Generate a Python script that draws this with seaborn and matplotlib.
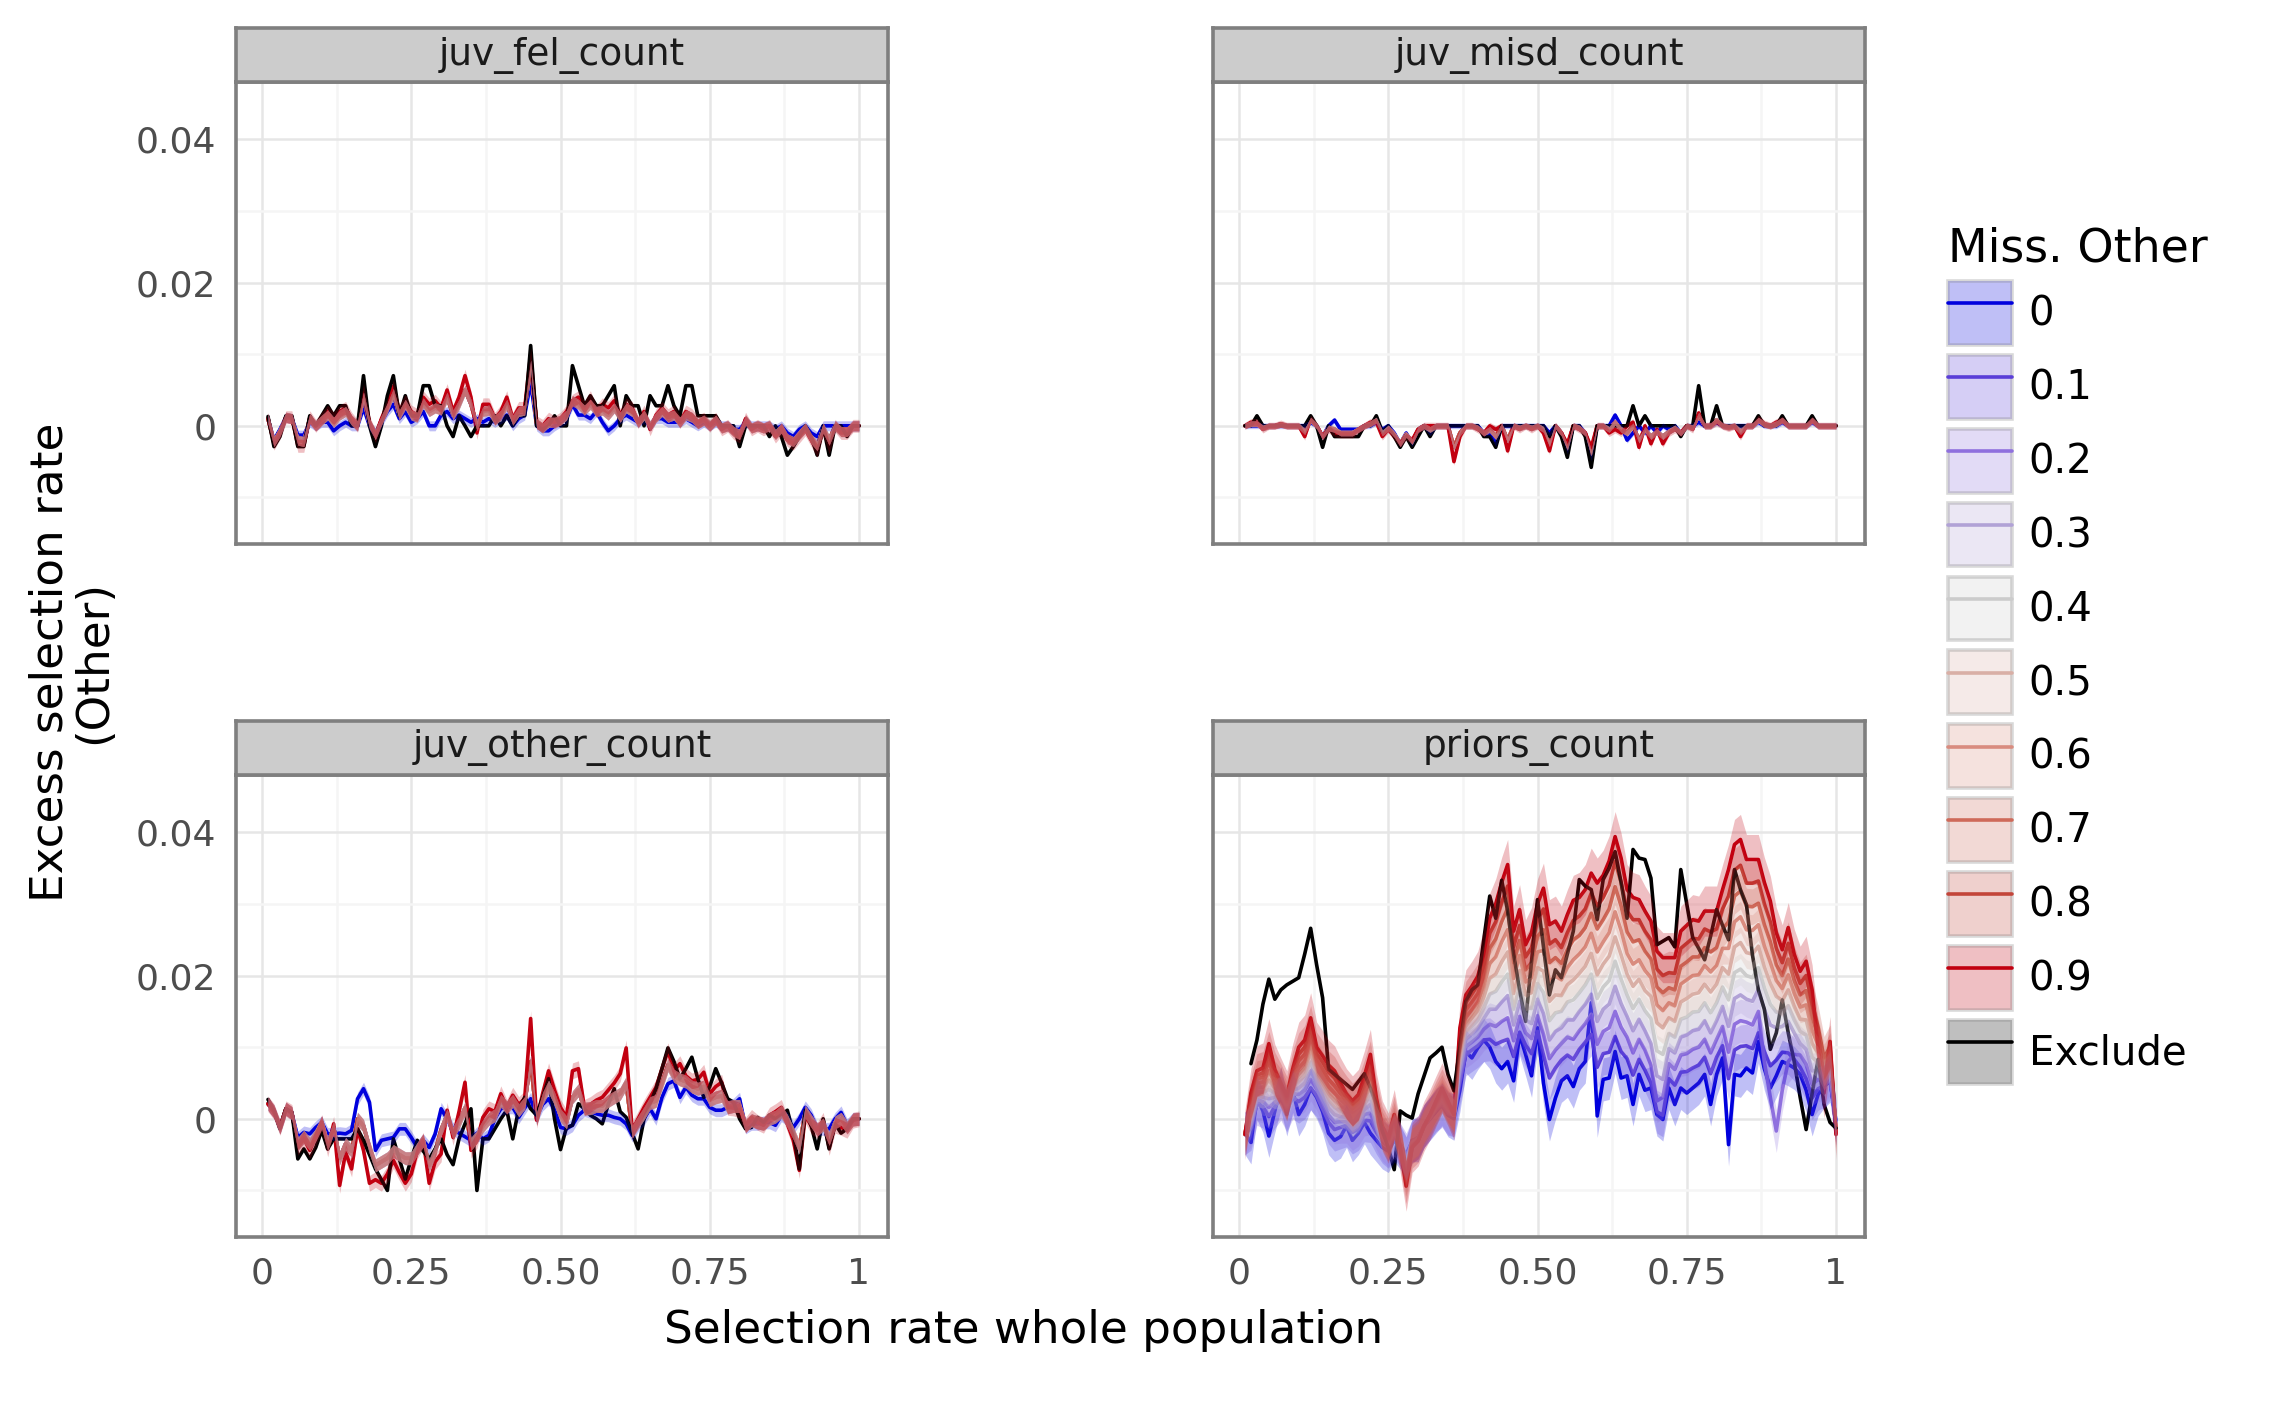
import numpy as np
import pandas as pd
import matplotlib
matplotlib.use("Agg")
import matplotlib.pyplot as plt
import seaborn as sns
from matplotlib.patches import Patch
from matplotlib.lines import Line2D
from matplotlib.legend_handler import HandlerTuple
from matplotlib.colors import to_rgba

sns.set_theme(style="white")
plt.rcParams["font.family"] = ["DejaVu Sans"]
plt.rcParams["text.color"] = "black"

nan = np.nan

# ------------------------------------------------------------
# Data (excess selection rate in units of 1e-4)
# ------------------------------------------------------------
sel_rate = np.round(np.arange(1, 101) / 100, 2)

levels = ["0", "0.1", "0.2", "0.3", "0.4", "0.5", "0.6", "0.7", "0.8", "0.9", "Exclude"]
level_colors = ["#0000dd", "#5a3ed8", "#8f70de", "#b1a2d6", "#cccccc", "#d9afa6",
                "#d98c7f", "#cf6a5a", "#c3453a", "#c20010", "#000000"]

features = ["juv_fel_count", "juv_misd_count", "juv_other_count", "priors_count"]

# juv_fel_count
fel_0 = [10, -20, -5, 12, 10, -13, -13, 5, 0, 5,
         5, -7, 0, 5, 0, 0, 25, 0, -10, 5,
         20, 30, 10, 20, 5, 10, 20, 0, 0, 15,
         20, 10, 15, 10, 5, 10, 5, 10, 5, 10,
         15, 0, 10, 15, 60, 0, -7, -7, 0, 5,
         10, 30, 15, 15, 10, 20, 5, -7, 0, 10,
         15, 10, 5, 10, 0, 10, 10, 5, 5, 5,
         10, 5, 0, 5, 0, 5, 0, 0, -5, -5,
         5, 0, 0, 0, 0, -5, 0, -10, -15, -5,
         0, -10, -15, 0, 0, 0, 0, 0, 0, 0]
fel_mid = [10, -22, -8, 12, 10, -20, -22, 10, 0, 8,
           15, 5, 15, 20, 8, 0, 40, 3, -12, 8,
           25, 45, 15, 30, 15, 12, 32, 20, 25, 22,
           40, 15, 30, 50, 30, 0, 20, 22, 8, 15,
           30, 8, 20, 22, 85, 3, -3, 5, 5, 8,
           15, 35, 30, 22, 30, 20, 22, 15, 25, 12,
           25, 20, 5, 15, 0, 12, 20, 12, 15, 5,
           15, 12, 3, 8, 0, 8, -3, 0, -8, -12,
           8, -3, 0, -3, 0, -12, -3, -18, -22, -12,
           -3, -18, -28, -3, -20, 0, -8, -8, 0, 0]
fel_09 = [10, -25, -10, 12, 12, -28, -28, 12, 0, 10,
          20, 10, 20, 25, 10, 0, 50, 5, -15, 10,
          30, 55, 20, 35, 20, 15, 40, 30, 35, 25,
          50, 20, 40, 70, 40, -10, 30, 30, 10, 20,
          40, 10, 25, 25, 100, 5, 0, 10, 5, 10,
          20, 35, 40, 25, 40, 20, 30, 25, 35, 15,
          30, 25, 5, 20, -5, 15, 25, 15, 20, 5,
          20, 15, 5, 10, 0, 10, -5, 0, -10, -15,
          10, -5, 0, -5, 0, -15, -5, -20, -25, -15,
          -5, -20, -35, -5, -30, 0, -10, -10, 0, 0]
fel_excl = [13, -29, -15, 14, 14, -29, -29, 14, 0, 14,
            28, 14, 28, 28, 0, 0, 70, 0, -29, 0,
            42, 70, 14, 42, 14, 14, 56, 56, 28, 28,
            0, -15, 14, 0, -15, 0, 0, 0, 14, 0,
            14, 0, 14, 14, 112, 0, -5, 0, 14, 0,
            0, 84, 56, 28, 42, 28, 28, 42, 56, 0,
            42, 28, 28, 0, 42, 28, 28, 56, 28, 14,
            56, 56, 14, 14, 14, 14, 0, 0, 0, -29,
            0, 0, 0, 0, -15, 0, -15, -41, -29, -15,
            0, -15, -41, 0, -41, 0, 0, -15, 0, 0]

# juv_misd_count
misd_0 = [0, 0, 0, 0, 0, 0, 0, 0, 0, 0,
          0, 5, 0, -15, 0, 8, -5, -5, -5, -5,
          0, 0, 5, -5, 0, -10, -25, -10, -25, -5,
          0, -10, 0, 0, 0, 0, 0, 0, 0, 0,
          -10, -10, -25, 0, 0, 0, 0, 0, 0, 0,
          0, -10, 0, -10, -35, 0, 0, -10, -45, 0,
          0, 0, 15, 0, -20, -10, 0, -10, 0, -10,
          0, -5, 0, -10, 0, 0, 5, 0, 0, 5,
          0, 0, 0, 0, 0, 0, 5, 0, 0, 0,
          5, 0, 0, 0, 0, 5, 0, 0, 0, 0]
misd_mid = [0, 3, 3, -3, 0, 0, 2, 0, 0, 0,
            -8, 8, 0, -15, -3, -5, -10, -10, -10, -5,
            0, 3, 8, -10, -3, -12, -25, -12, -22, -5,
            0, -5, 0, 0, 0, -30, -10, 0, 0, -3,
            -10, -5, -15, 0, -20, 0, -3, 0, -3, 0,
            -5, -25, 0, -10, -30, 0, -3, -10, -38, 0,
            0, -5, 5, -5, -10, 0, -20, -5, -15, -8,
            -15, -8, -3, -10, 0, -3, 15, 0, 0, 8,
            0, -2, 0, -8, 0, 0, 8, 2, 0, 3,
            8, 0, 0, 0, 0, 8, 0, 0, 0, 0]
misd_09 = [0, 5, 5, -5, 0, 0, 3, 0, 0, 0,
           -15, 10, 0, -15, -5, -10, -12, -12, -12, -5,
           0, 5, 5, -15, -5, -15, -25, -15, -20, -5,
           0, 0, 0, 0, 0, -50, -15, 0, 0, -5,
           -10, 0, -5, 0, -35, 0, -5, 0, -5, 0,
           -10, -35, 0, -10, -25, 0, -5, -10, -30, 0,
           0, -10, -5, -10, 0, 5, -30, 0, -25, -5,
           -25, -10, -5, -10, 0, -5, 18, 0, 0, 5,
           0, -3, 0, -15, 0, 0, 10, 3, 0, 5,
           8, 0, 0, 0, 0, 8, 0, 0, 0, 0]
misd_excl = [0, 0, 14, 0, 0, 0, 0, 0, 0, 0,
             0, 14, 0, -30, 0, -15, -15, -15, -15, -15,
             0, 0, 14, -8, 0, -15, -30, -15, -30, -15,
             0, -15, 0, 0, 0, 0, 0, 0, 0, 0,
             -15, -15, -30, 0, 0, 0, 0, 0, 0, 0,
             0, -15, 0, -15, -44, 0, 0, -15, -58, 0,
             0, 0, 0, 0, 0, 28, 0, 14, 0, 0,
             0, 0, 0, -15, 0, 0, 56, 0, 0, 28,
             0, 0, 0, 0, 0, 0, 14, 0, 0, 0,
             14, 0, 0, 0, 0, 14, 0, 0, 0, 0]

# juv_other_count
oth_0 = [21, 10, -12, 14, 7, -26, -19, -21, -12, -5,
         -21, -21, -20, -21, -16, 28, 42, 23, -44, -30,
         -28, -26, -14, -14, -26, -40, -30, -40, -21, 14,
         0, -14, -20, -25, -30, -20, -28, -23, 0, 14,
         16, 16, 2, 15, 28, 2, 20, 28, 12, -12,
         -14, -9, 5, 12, 10, 7, 5, 5, 2, 0,
         -7, -23, -9, 0, 14, 0, 30, 49, 53, 30,
         44, 33, 28, 28, 16, 12, 12, 16, 20, 28,
         -12, -7, -7, -5, -5, -9, 5, 0, -12, 0,
         16, 5, -14, -14, -14, 0, 9, -9, 0, 0]
oth_mid = [21, 10, -12, 14, 8, -35, -25, -35, -22, -5,
           -35, -12, -55, -35, -45, 0, -10, -40, -65, -60,
           -55, -45, -50, -55, -55, -42, -30, -65, -45, -15,
           5, -20, -5, 15, -35, -25, -10, 0, 5, 25,
           16, 25, 12, 22, 80, 0, 28, 45, 28, 5,
           -5, 30, 40, 14, 15, 18, 18, 25, 30, 35,
           50, -18, -5, 8, 22, 25, 50, 75, 60, 55,
           52, 45, 42, 45, 26, 30, 32, 16, 18, 18,
           -10, -2, -5, -7, 0, 3, 10, -3, -20, -40,
           10, -3, -15, -8, -28, -5, 0, -12, -1, 0]
oth_09 = [21, 10, -12, 14, 9, -40, -28, -44, -26, -5,
          -42, -7, -93, -47, -70, -14, -44, -90, -85, -90,
          -77, -58, -75, -90, -77, -45, -30, -90, -60, -49,
          12, -26, 10, 51, -44, -30, 2, 14, 10, 35,
          16, 33, 20, 28, 140, -2, 35, 67, 40, 16,
          2, 67, 70, 16, 20, 26, 30, 40, 50, 63,
          99, -16, 0, 16, 30, 44, 70, 95, 67, 77,
          60, 53, 55, 65, 35, 45, 51, 16, 15, 12,
          -9, 2, -5, -9, 5, 10, 16, -7, -30, -72,
          5, -10, -16, -2, -40, -9, -12, -16, -2, 0]
oth_excl = [27, 12, -14, 14, 9, -56, -42, -56, -40, -16,
            -42, -28, -28, -28, -28, -14, -30, -50, -70, -85,
            -100, -28, -56, -84, -56, -30, -45, -56, -42, -28,
            -50, -64, -28, -7, 14, -100, -28, -28, -14, 0,
            12, -28, 14, 30, 14, 5, 30, 56, 0, -43,
            -12, -9, 21, 14, 5, 0, -7, 20, 42, 10,
            2, -20, -42, 0, 21, 42, 70, 99, 80, 56,
            70, 86, 56, 30, 45, 70, 50, 28, 23, 0,
            -14, -12, 2, -5, 5, 0, 5, 12, -20, -70,
            12, -10, -42, 0, -42, -7, -20, -14, 0, 0]

# priors_count
pri_00 = [-20, -33, 29, 11, -24, 11, 43, 6, 39, 6,
          20, 43, 30, 10, -20, -30, -25, -10, -30, -20,
          -5, -20, -30, -40, -45, -30, -40, -55, -30, -30,
          -10, 0, 10, 20, 5, 0, 40, 94, 85, 99,
          110, 100, 80, 70, 80, 53, 118, 90, 60, 127,
          50, -1, 29, 53, 60, 45, 70, 80, 162, 4,
          55, 57, 94, 57, 60, 20, 62, 40, 43, 6,
          -1, 43, 20, 43, 36, 43, 50, 62, 20, 62,
          85, -36, 62, 60, 71, 64, 108, 70, 43, 60,
          80, 76, 71, 62, 40, 6, 34, 45, 53, -3]
pri_01 = [-20, -14, 21, 17, 3, 17, 28, 12, 30, 24,
          30, 42, 33, 14, -5, -15, -12, -9, -19, -14,
          -2, -3, -19, -32, -39, -26, -36, -50, -31, -26,
          -10, 1, 12, 18, 7, 5, 50, 90, 96, 102,
          110, 111, 104, 108, 111, 87, 121, 103, 91, 122,
          89, 57, 71, 82, 89, 83, 97, 107, 118, 72,
          91, 93, 115, 94, 84, 61, 83, 68, 50, 10,
          5, 56, 47, 65, 66, 71, 75, 86, 63, 86,
          102, 56, 96, 101, 102, 98, 120, 94, 74, 82,
          93, 92, 83, 72, 56, 29, 42, 46, 56, -7]
pri_02 = [-21, -8, 27, 24, 16, 23, 31, 15, 35, 34,
          40, 55, 42, 23, 5, -5, -4, -4, -14, -8,
          6, 8, -13, -29, -37, -22, -36, -56, -32, -26,
          -10, 1, 13, 21, 9, 5, 59, 101, 107, 114,
          125, 132, 129, 136, 141, 109, 143, 120, 112, 144,
          118, 84, 96, 105, 114, 111, 123, 133, 146, 104,
          122, 127, 150, 128, 114, 92, 111, 96, 75, 25,
          30, 77, 69, 89, 91, 97, 100, 111, 92, 111,
          129, 93, 132, 137, 135, 131, 150, 80, 30, -17,
          40, 80, 90, 89, 76, 48, 55, 51, 63, -9]
pri_03 = [-20, -1, 32, 30, 28, 30, 33, 17, 40, 43,
          50, 67, 50, 33, 15, 6, 3, 2, -8, -2,
          13, 20, -7, -27, -36, -18, -37, -61, -33, -27,
          -10, 2, 15, 24, 12, 5, 69, 111, 118, 126,
          140, 153, 153, 163, 172, 131, 164, 138, 133, 167,
          147, 110, 122, 127, 138, 138, 150, 160, 174, 136,
          153, 160, 185, 161, 143, 123, 139, 123, 105, 60,
          55, 98, 92, 114, 117, 123, 125, 137, 120, 137,
          157, 129, 168, 173, 167, 164, 181, 153, 131, 127,
          129, 136, 120, 105, 97, 67, 67, 57, 69, -11]
pri_04 = [-22, 5, 38, 37, 41, 36, 36, 20, 45, 53,
          60, 79, 58, 42, 25, 16, 11, 7, -3, 4,
          21, 32, -1, -24, -34, -14, -37, -67, -34, -28,
          -10, 3, 17, 27, 14, 5, 79, 121, 129, 138,
          155, 174, 178, 191, 202, 153, 185, 155, 154, 189,
          176, 137, 148, 150, 163, 166, 176, 187, 202, 168,
          184, 193, 220, 195, 173, 154, 167, 151, 140, 95,
          90, 119, 114, 139, 142, 149, 150, 162, 148, 162,
          184, 166, 204, 209, 200, 197, 211, 183, 160, 149,
          147, 158, 138, 122, 117, 86, 79, 62, 76, -13]
pri_05 = [-21, 11, 44, 44, 54, 43, 39, 22, 50, 62,
          70, 92, 67, 51, 35, 26, 19, 13, 3, 10,
          29, 44, 5, -21, -33, -10, -38, -72, -36, -29,
          -10, 3, 18, 31, 16, 5, 88, 132, 141, 151,
          170, 196, 202, 219, 233, 175, 207, 173, 176, 211,
          206, 164, 173, 172, 187, 194, 203, 213, 231, 201,
          216, 227, 254, 229, 202, 185, 195, 179, 171, 134,
          127, 141, 136, 163, 168, 174, 176, 188, 177, 188,
          211, 202, 240, 246, 232, 230, 241, 212, 189, 171,
          165, 180, 157, 139, 138, 105, 92, 68, 82, -14]
pri_06 = [-20, 17, 50, 51, 67, 50, 42, 24, 55, 71,
          80, 104, 75, 60, 45, 36, 27, 19, 9, 16,
          37, 55, 11, -18, -32, -6, -39, -77, -37, -29,
          -10, 4, 20, 34, 18, 5, 98, 142, 152, 163,
          185, 217, 226, 247, 264, 196, 228, 191, 197, 233,
          235, 191, 199, 194, 211, 222, 230, 240, 259, 233,
          247, 260, 289, 263, 231, 216, 222, 207, 197, 159,
          151, 162, 158, 188, 194, 200, 201, 214, 205, 214,
          238, 238, 275, 282, 264, 263, 271, 241, 218, 193,
          182, 201, 175, 156, 159, 123, 104, 74, 88, -16]
pri_07 = [-22, 23, 56, 58, 80, 56, 45, 27, 60, 81,
          90, 116, 83, 69, 55, 46, 35, 24, 14, 22,
          45, 67, 17, -15, -30, -2, -39, -83, -38, -30,
          -10, 5, 22, 37, 20, 6, 108, 152, 163, 175,
          200, 238, 251, 275, 294, 218, 249, 208, 218, 255,
          264, 218, 225, 217, 236, 250, 256, 267, 287, 265,
          278, 293, 324, 297, 261, 247, 250, 234, 223, 184,
          176, 183, 180, 213, 219, 226, 226, 239, 233, 239,
          265, 275, 311, 318, 297, 296, 301, 271, 247, 215,
          200, 223, 193, 173, 179, 142, 116, 79, 95, -18]
pri_08 = [-21, 30, 61, 64, 92, 63, 47, 29, 65, 90,
          100, 128, 91, 79, 65, 57, 42, 30, 20, 28,
          52, 79, 23, -13, -29, 2, -40, -88, -39, -31,
          -10, 5, 23, 40, 23, 6, 117, 162, 174, 187,
          215, 259, 275, 302, 325, 240, 270, 226, 239, 278,
          293, 244, 250, 239, 260, 277, 283, 293, 315, 297,
          309, 326, 359, 330, 290, 278, 278, 262, 250, 209,
          200, 204, 203, 238, 245, 252, 251, 265, 261, 265,
          293, 311, 347, 354, 329, 329, 332, 300, 275, 238,
          218, 245, 211, 189, 200, 161, 128, 85, 101, -20]
pri_09 = [-22, 36, 67, 71, 105, 69, 50, 32, 70, 100,
          110, 141, 100, 88, 75, 67, 50, 35, 25, 34,
          60, 90, 29, -10, -27, 6, -40, -94, -40, -31,
          -10, 6, 25, 43, 25, 6, 127, 173, 185, 199,
          230, 280, 300, 330, 355, 262, 292, 243, 260, 300,
          322, 271, 276, 262, 285, 305, 309, 320, 343, 329,
          340, 360, 394, 364, 320, 309, 306, 290, 276, 234,
          225, 225, 225, 262, 270, 278, 276, 290, 290, 290,
          320, 348, 383, 390, 362, 362, 362, 330, 304, 260,
          236, 267, 230, 206, 220, 180, 100, 36, 108, -22]
pri_excl = [nan, 77, 110, 160, 195, 167, 180, 187, 192, 197,
            230, 266, 215, 169, 69, 62, 55, 48, 41, 52,
            63, 43, 20, -17, -40, -71, 11, 5, 1, 35,
            60, 85, 92, 100, 62, 39, 100, 164, 180, 187,
            250, 311, 280, 333, 290, 230, 180, 136, 220, 306,
            240, 173, 208, 197, 230, 262, 334, 325, 320, 278,
            334, 350, 373, 330, 280, 376, 364, 362, 336, 243,
            248, 253, 240, 348, 300, 253, 238, 222, 255, 292,
            270, 250, 348, 320, 299, 229, 180, 153, 97, 120,
            166, 120, 80, 30, -15, 35, 83, 20, -5, -13]

panel_series = {
    "juv_fel_count": [fel_0] + [fel_mid] * 8 + [fel_09, fel_excl],
    "juv_misd_count": [misd_0] + [misd_mid] * 8 + [misd_09, misd_excl],
    "juv_other_count": [oth_0] + [oth_mid] * 8 + [oth_09, oth_excl],
    "priors_count": [pri_00, pri_01, pri_02, pri_03, pri_04, pri_05,
                     pri_06, pri_07, pri_08, pri_09, pri_excl],
}
# half width of the confidence ribbon (same units)
band_hw = {
    "juv_fel_count": [7, 7, 7, 7, 7, 7, 7, 7, 7, 9, 0],
    "juv_misd_count": [4, 4, 4, 4, 4, 4, 4, 4, 4, 5, 0],
    "juv_other_count": [9, 9, 9, 9, 9, 9, 9, 9, 9, 11, 0],
    "priors_count": [30, 30, 30, 25, 22, 22, 22, 25, 30, 35, 0],
}


def long_frame(series, hw):
    parts = []
    for lev, vals, h in zip(levels, series, hw):
        v = np.array(vals, dtype=float) * 1e-4
        for sign in (-1, 1):
            parts.append(pd.DataFrame({"x": sel_rate, "y": v + sign * h * 1e-4, "level": lev}))
    return pd.concat(parts, ignore_index=True).dropna()


# ------------------------------------------------------------
# Figure layout (pixel boxes on a 2285 x 1428 canvas)
# ------------------------------------------------------------
W, H = 2285, 1428
panel_px = {
    "juv_fel_count": (236, 82, 888, 544),
    "juv_misd_count": (1213, 82, 1865, 544),
    "juv_other_count": (236, 775, 888, 1237),
    "priors_count": (1213, 775, 1865, 1237),
}
strip_h = 54

fig = plt.figure(figsize=(W / 200, H / 200), dpi=200)
palette = dict(zip(levels, level_colors))

for feat in features:
    l, t, r, b = panel_px[feat]
    ax = fig.add_axes([l / W, 1 - b / H, (r - l) / W, (b - t) / H])
    d = long_frame(panel_series[feat], band_hw[feat])
    sns.lineplot(data=d, x="x", y="y", hue="level", hue_order=levels, palette=palette,
                 errorbar=("pi", 100), linewidth=1.3, legend=False, ax=ax,
                 err_kws={"alpha": 0.25, "zorder": 3, "linewidth": 0})

    ax.set_xlim(-0.0436, 1.0486)
    ax.set_ylim(-0.0165, 0.0480)
    ax.set_xticks([0, 0.25, 0.5, 0.75, 1])
    ax.set_xticklabels(["0", "0.25", "0.50", "0.75", "1"])
    ax.set_xticks([0.125, 0.375, 0.625, 0.875], minor=True)
    ax.set_yticks([0, 0.02, 0.04])
    ax.set_yticklabels(["0", "0.02", "0.04"])
    ax.set_yticks([-0.01, 0.01, 0.03], minor=True)
    ax.grid(which="major", color="#e6e6e6", linewidth=0.9)
    ax.grid(which="minor", color="#f5f5f5", linewidth=0.9)
    ax.set_axisbelow(True)
    ax.set_facecolor("white")
    for sp in ax.spines.values():
        sp.set_color("#7f7f7f")
        sp.set_linewidth(1.3)
    ax.set_xlabel("")
    ax.set_ylabel("")
    ax.tick_params(which="major", length=3.6, width=0.9, color="#333333",
                   labelsize=13, labelcolor="#4d4d4d", pad=3.5)
    ax.tick_params(which="minor", length=0)
    if t < 400:
        ax.tick_params(axis="x", which="major", length=0, labelbottom=False)
    if l > 1000:
        ax.tick_params(axis="y", which="major", length=0, labelleft=False)

    sax = fig.add_axes([l / W, 1 - t / H, (r - l) / W, strip_h / H])
    sax.set_facecolor("#cccccc")
    sax.set_xticks([])
    sax.set_yticks([])
    for sp in sax.spines.values():
        sp.set_color("#7f7f7f")
        sp.set_linewidth(1.3)
    sax.text(0.5, 0.5, feat, ha="center", va="center", fontsize=13.5, color="#1a1a1a",
             transform=sax.transAxes)

fig.text(1024 / W, 1 - 1330 / H, "Selection rate whole population", ha="center", va="center",
         fontsize=16.3, color="black")
fig.text(72 / W, 1 - 662 / H, "Excess selection rate\n(Other)", ha="center", va="center",
         rotation=90, fontsize=16.3, linespacing=1.0, color="black")

handles = []
for lev, c in zip(levels, level_colors):
    patch = Patch(facecolor=to_rgba(c, 0.25), edgecolor=(0.5, 0.5, 0.5, 0.3), linewidth=1.3)
    line = Line2D([], [], color=c, linewidth=1.3)
    handles.append((patch, line))

leg = fig.legend(handles, levels, loc="upper left", bbox_to_anchor=(1948 / W, 1 - 226 / H),
                 frameon=False, title="Miss. Other", title_fontsize=16.5, fontsize=14.5,
                 handlelength=1.6, handleheight=2.06, labelspacing=0.25, handletextpad=0.4,
                 borderpad=0, borderaxespad=0, alignment="left", labelcolor="black",
                 handler_map={tuple: HandlerTuple(ndivide=1)})
leg.get_title().set_color("black")

fig.savefig("out.png", dpi=200, facecolor="white")
